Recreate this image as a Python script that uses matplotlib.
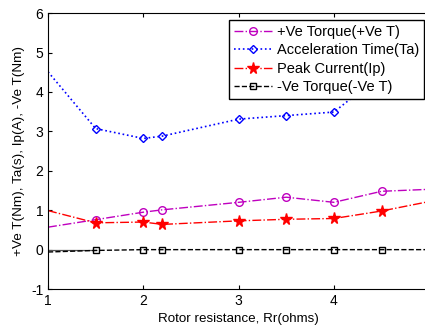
import matplotlib.pyplot as plt
import numpy as np

plt.rcParams['font.family'] = ['Liberation Sans', 'DejaVu Sans']
plt.rcParams['axes.unicode_minus'] = False

rr = [1, 1.5, 2, 2.2, 3, 3.5, 4, 4.5, 5]
pos_torque = [0.57, 0.76, 0.95, 1.01, 1.20, 1.33, 1.20, 1.48, 1.53]
accel_time = [4.51, 3.07, 2.82, 2.88, 3.31, 3.40, 3.49, 4.45, 5.0]
peak_current = [0.99, 0.68, 0.70, 0.64, 0.73, 0.77, 0.79, 0.98, 1.22]
neg_torque = [-0.06, -0.02, 0.0, 0.0, 0.0, 0.0, 0.0, 0.0, 0.0]
zero_x = [1, 1.5]
zero_y = [0, 0]

fig = plt.figure(figsize=(4.25, 3.27), dpi=100)
ax = fig.add_axes([0.113, 0.116, 0.897, 0.844])

marks = slice(1, -1)
ax.plot(zero_x, zero_y, color='#555555', lw=0.9)
ax.plot(rr, pos_torque, color='m', ls='-.', lw=1, marker='o', mfc='none',
        ms=5.5, markevery=marks, label='+Ve Torque(+Ve T)')
ax.plot(rr, accel_time, color='b', ls=':', lw=1.2, marker='D', mfc='none',
        ms=4.5, markevery=marks, label='Acceleration Time(Ta)')
ax.plot(rr, peak_current, color='r', ls='-.', lw=1, marker='*',
        ms=8.5, markevery=marks, label='Peak Current(Ip)')
ax.plot(rr, neg_torque, color='k', ls='--', lw=1, marker='s', mfc='none',
        ms=5, markevery=marks, label='-Ve Torque(-Ve T)')

ax.set_xlim(1, 5)
ax.set_ylim(-1, 6)
ax.set_xticks([1, 2, 3, 4])
ax.set_yticks(np.arange(-1, 7))
ax.tick_params(direction='in', top=True, right=True, labelsize=10, length=3)
ax.set_xlabel('Rotor resistance, Rr(ohms)', fontsize=9.6, labelpad=4)
ax.set_ylabel('+Ve T(Nm), Ta(s), Ip(A), -Ve T(Nm)', fontsize=9.7, labelpad=4)

leg = ax.legend(loc='upper right', bbox_to_anchor=(0.987, 0.975), fontsize=10.5,
                fancybox=False, framealpha=1, edgecolor='k', handlelength=2.6,
                borderpad=0.35, labelspacing=0.3, handletextpad=0.35,
                borderaxespad=0)
leg.get_frame().set_linewidth(1)

fig.savefig('out.png', dpi=100)
